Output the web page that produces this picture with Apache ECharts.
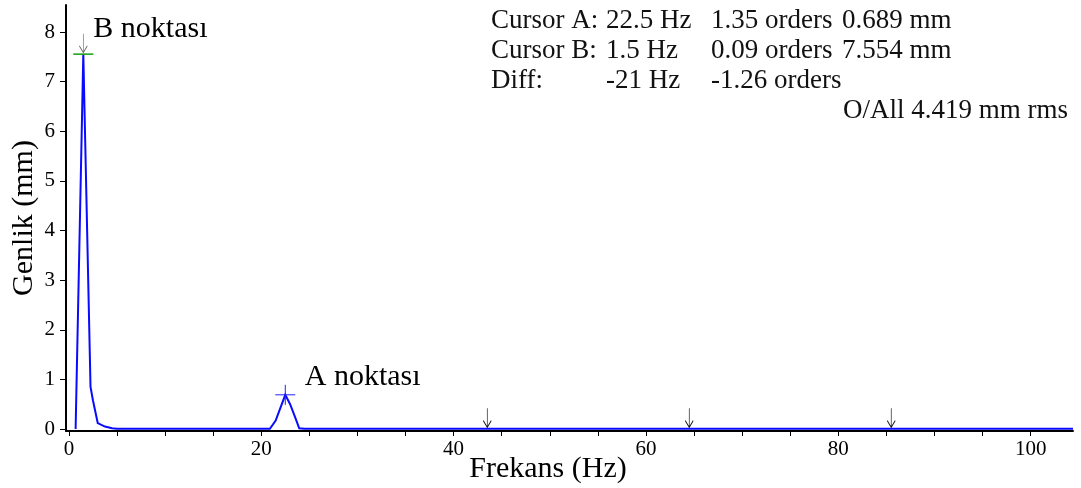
<!DOCTYPE html>
<html><head><meta charset="utf-8">
<script src="https://cdn.jsdelivr.net/npm/echarts@6/dist/echarts.min.js"></script>
<style>html,body{margin:0;padding:0;background:#fff}#c{width:1081px;height:488px}</style>
</head><body><div id="c"></div>
<script>
// Spectrum vertices (Hz, mm)
const freqHz      = [0.7, 1.5,   2.25, 2.5,  3.0,  3.75, 4.5,   5.0,   20.9,  21.5, 22.5,  23.0, 23.5, 23.95, 24.5,  104.4];
const amplitudeMm = [0.0, 7.554, 0.85, 0.58, 0.12, 0.05, 0.015, 0.005, 0.005, 0.17, 0.689, 0.50, 0.25, 0.015, 0.005, 0.005];

// Cursors
const cursorA = [22.5, 0.689];
const cursorB = [1.5, 7.554];
const cursorNames = ['A noktası', 'B noktası'];
const harmonicHz = [43.5, 64.5, 85.5];
const harmonicAmp = [0.005, 0.005, 0.005];

// Ticks
const xTickValues = [0, 5, 10, 15, 20, 25, 30, 35, 40, 45, 50, 55, 60, 65, 70, 75, 80, 85, 90, 95, 100];
const xLabelValues = [0, 20, 40, 60, 80, 100];
const yTickValues = [0, 1, 2, 3, 4, 5, 6, 7, 8];

// Readout text
const readoutRows = [
  ['Cursor A:', '22.5 Hz', '1.35 orders', '0.689 mm'],
  ['Cursor B:', '1.5 Hz', '0.09 orders', '7.554 mm'],
  ['Diff:', '-21 Hz', '-1.26 orders', '']
];
const overallText = 'O/All 4.419 mm rms';

const serif = '"Liberation Serif", "Times New Roman", serif';
const colX = [491, 606, 711, 842];
const rowY = [21, 51, 81];

const graphics = [];
readoutRows.forEach((row, r) => row.forEach((t, c) => {
  if (!t) return;
  graphics.push({type: 'text', x: colX[c], y: rowY[r], silent: true,
    style: {text: t, font: '27px ' + serif, fill: '#111', align: 'left', verticalAlign: 'middle'}});
}));
graphics.push({type: 'text', x: 843, y: 111, silent: true,
  style: {text: overallText, font: '27px ' + serif, fill: '#111', align: 'left', verticalAlign: 'middle'}});

const arrowPath = 'path://M5,0L5,20M1,13L5,20L9,13';

const chart = echarts.init(document.getElementById('c'), null, {renderer: 'canvas'});
chart.setOption({
  animation: false,
  backgroundColor: '#fff',
  grid: {left: 66, right: 8, top: 5, bottom: 57, containLabel: false, outerBoundsMode: 'none'},
  xAxis: {
    type: 'value', min: -0.3, max: 104.4,
    name: 'Frekans (Hz)', nameLocation: 'middle', nameGap: 23, nameMoveOverlap: false,
    nameTextStyle: {fontFamily: serif, fontSize: 30, color: '#000', padding: [0, 43, 0, 0]},
    axisLine: {show: true, onZero: false, lineStyle: {color: '#000', width: 2}},
    axisTick: {show: true, inside: false, length: 5, customValues: xTickValues, lineStyle: {color: '#000', width: 1}},
    axisLabel: {show: true, customValues: xLabelValues, margin: 8, fontFamily: serif, fontSize: 21, color: '#000'},
    splitLine: {show: false}
  },
  yAxis: {
    type: 'value', min: -0.04, max: 8.544,
    name: 'Genlik (mm)', nameLocation: 'middle', nameGap: 19, nameMoveOverlap: false,
    nameTextStyle: {fontFamily: serif, fontSize: 30, color: '#000', padding: [0, 0, 8, 0]},
    axisLine: {show: true, onZero: false, lineStyle: {color: '#000', width: 2}},
    axisTick: {show: true, inside: false, length: 6, customValues: yTickValues, lineStyle: {color: '#000', width: 1}},
    axisLabel: {show: true, customValues: yTickValues, margin: 11, fontFamily: serif, fontSize: 21, color: '#000'},
    splitLine: {show: false}
  },
  series: [
    {
      type: 'line', name: 'spectrum',
      data: freqHz.map((f, i) => [f, amplitudeMm[i]]),
      showSymbol: false, symbol: 'none', smooth: false,
      lineStyle: {color: '#0a0aff', width: 2, join: 'miter'},
      z: 3
    },
    {
      type: 'scatter', name: 'harmonics',
      data: harmonicHz.map((f, i) => [f, harmonicAmp[i]]),
      symbol: arrowPath, symbolSize: [8, 19], symbolOffset: [0, -11],
      itemStyle: {color: 'none', borderColor: '#111', borderWidth: 1, opacity: 1},
      silent: true, z: 4
    },
    {
      type: 'scatter', name: 'cursorBArrow',
      data: [cursorB],
      symbol: arrowPath, symbolSize: [8, 19], symbolOffset: [0, -11],
      itemStyle: {color: 'none', borderColor: '#6e6e6e', borderWidth: 1, opacity: 1},
      silent: true, z: 5
    },
    {
      type: 'scatter', name: 'cursorB',
      data: [{value: cursorB, name: cursorNames[1]}],
      symbol: 'rect', symbolSize: [20, 1.5],
      itemStyle: {color: '#10a010', opacity: 1},
      label: {show: true, formatter: '{b}', position: 'right', distance: 0, offset: [0, -25],
        fontFamily: serif, fontSize: 30, color: '#000', opacity: 1},
      silent: true, z: 6
    },
    {
      type: 'scatter', name: 'cursorA',
      data: [{value: cursorA, name: cursorNames[0]}],
      symbol: 'path://M0,10L20,10M10,0L10,20', symbolSize: [20, 20],
      itemStyle: {color: 'none', borderColor: '#2020ff', borderWidth: 1, opacity: 1},
      label: {show: true, formatter: '{b}', position: 'right', distance: 7, offset: [0, -18],
        fontFamily: serif, fontSize: 30, color: '#000', opacity: 1},
      silent: true, z: 6
    }
  ],
  graphic: graphics
});
</script>
</body></html>
